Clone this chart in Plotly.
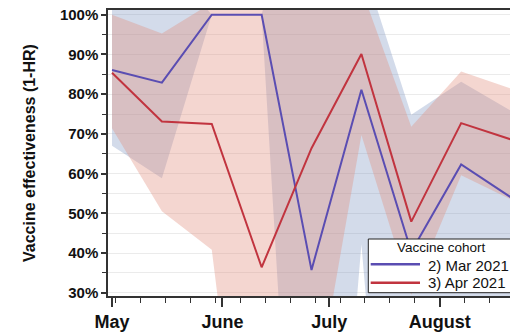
import plotly.graph_objects as go

# Biweekly estimates of vaccine effectiveness (1-HR, %) by vaccination cohort
dates = ["2021-05-01", "2021-05-15", "2021-05-29", "2021-06-12", "2021-06-26",
         "2021-07-10", "2021-07-24", "2021-08-07", "2021-08-21"]

mar_name = "2) Mar 2021"
mar_ve = [86.1, 82.9, 100.0, 100.0, 35.7, 81.1, 40.3, 62.3, 54.0]
mar_lo = [67.0, 58.8, 100.0, 100.0, -110.0, 42.2, -105.0, 10.0, 20.0]
mar_hi = [105.0, 115.0, 100.0, 100.0, 150.0, 113.7, 74.8, 83.1, 75.8]

apr_name = "3) Apr 2021"
apr_ve = [85.4, 73.1, 72.5, 36.4, 66.4, 90.1, 47.9, 72.7, 68.6]
apr_lo = [71.4, 50.5, 40.8, -60.0, -2.0, 69.7, 29.5, 59.6, 53.5]
apr_hi = [100.0, 95.3, 103.0, 110.0, 120.0, 106.5, 71.8, 85.7, 81.4]

month_ticks = ["2021-05-01", "2021-06-01", "2021-07-01", "2021-08-01"]
month_labels = ["May", "June", "July", "August"]

FONT = "Liberation Sans, Arial, sans-serif"
MAR_LINE = "#5a4db2"
APR_LINE = "#c1343f"
MAR_FILL = "rgba(108,135,185,0.30)"
APR_FILL = "rgba(224,141,124,0.36)"

fig = go.Figure()


def add_band(lo, hi, color):
    fig.add_trace(go.Scatter(
        x=dates + dates[::-1], y=hi + lo[::-1],
        fill="toself", fillcolor=color, mode="lines",
        line=dict(width=0), hoverinfo="skip", showlegend=False))


add_band(mar_lo, mar_hi, MAR_FILL)
add_band(apr_lo, apr_hi, APR_FILL)

fig.add_trace(go.Scatter(x=dates, y=mar_ve, mode="lines", name=mar_name,
                         line=dict(color=MAR_LINE, width=2), showlegend=False))
fig.add_trace(go.Scatter(x=dates, y=apr_ve, mode="lines", name=apr_name,
                         line=dict(color=APR_LINE, width=2), showlegend=False))

# plot-area geometry (pixels) used to place the legend box
L, T, B, W, H = 108, 10, 39, 510, 335
PW, PH = W - L, H - T - B


def px(x):
    return (x - L) / PW


def py(y):
    return (H - B - y) / PH


shapes = [
    dict(type="rect", xref="paper", yref="paper",
         x0=px(368.3), x1=px(525), y0=py(292.7), y1=py(239),
         fillcolor="white", line=dict(color="#222", width=1), layer="above"),
    dict(type="line", xref="paper", yref="paper",
         x0=px(370.7), x1=px(420), y0=py(264.3), y1=py(264.3),
         line=dict(color=MAR_LINE, width=2.5), layer="above"),
    dict(type="line", xref="paper", yref="paper",
         x0=px(370.7), x1=px(420), y0=py(282.7), y1=py(282.7),
         line=dict(color=APR_LINE, width=2.5), layer="above"),
]

annotations = [
    dict(text="Vaccine cohort", xref="paper", yref="paper",
         x=px(441.7), y=py(247.5), xanchor="center", yanchor="middle",
         showarrow=False, font=dict(family=FONT, size=13.5, color="#111")),
    dict(text=mar_name, xref="paper", yref="paper",
         x=px(425.7), y=py(265), xanchor="left", yanchor="middle",
         showarrow=False, font=dict(family=FONT, size=15, color="#111")),
    dict(text=apr_name, xref="paper", yref="paper",
         x=px(425.7), y=py(282.8), xanchor="left", yanchor="middle",
         showarrow=False, font=dict(family=FONT, size=15, color="#111")),
    dict(text="Vaccine effectiveness (1-HR)", xref="paper", yref="paper",
         x=px(29), y=0.5, xanchor="center", yanchor="middle", textangle=-90,
         showarrow=False,
         font=dict(family=FONT, size=16, color="#111", weight="bold")),
]

fig.update_layout(
    width=W, height=H,
    margin=dict(l=L, r=0, t=T, b=B),
    plot_bgcolor="white", paper_bgcolor="white",
    font=dict(family=FONT),
    shapes=shapes, annotations=annotations,
    xaxis=dict(
        type="date", range=["2021-04-29 21:00", "2021-08-20 17:00"],
        tickmode="array", tickvals=month_ticks, ticktext=month_labels,
        ticks="outside", ticklen=9, tickwidth=1.5, tickcolor="#333",
        tickfont=dict(family=FONT, size=18, color="#111", weight="bold"),
        showline=True, linecolor="#333", linewidth=1.5, mirror=True,
        showgrid=False, zeroline=False,
        minor=dict(tickmode="linear", tick0="2021-05-02", dtick=7 * 86400000,
                   ticks="outside", ticklen=5, tickwidth=1.2,
                   tickcolor="#333", showgrid=False),
    ),
    yaxis=dict(
        range=[29.17, 101.2], tickmode="linear", tick0=30, dtick=10,
        ticksuffix="%",
        ticks="outside", ticklen=5, tickwidth=1.5, tickcolor="#333",
        tickfont=dict(family=FONT, size=15, color="#111", weight="bold"),
        showline=True, linecolor="#333", linewidth=1.5,
        showgrid=True, gridcolor="#ebebeb", gridwidth=1, zeroline=False,
        minor=dict(tickmode="linear", tick0=25, dtick=5, ticks="outside",
                   ticklen=4, tickwidth=1.2, tickcolor="#333",
                   showgrid=True, gridcolor="#ebebeb", gridwidth=1),
    ),
)

fig.write_html("out.html")
